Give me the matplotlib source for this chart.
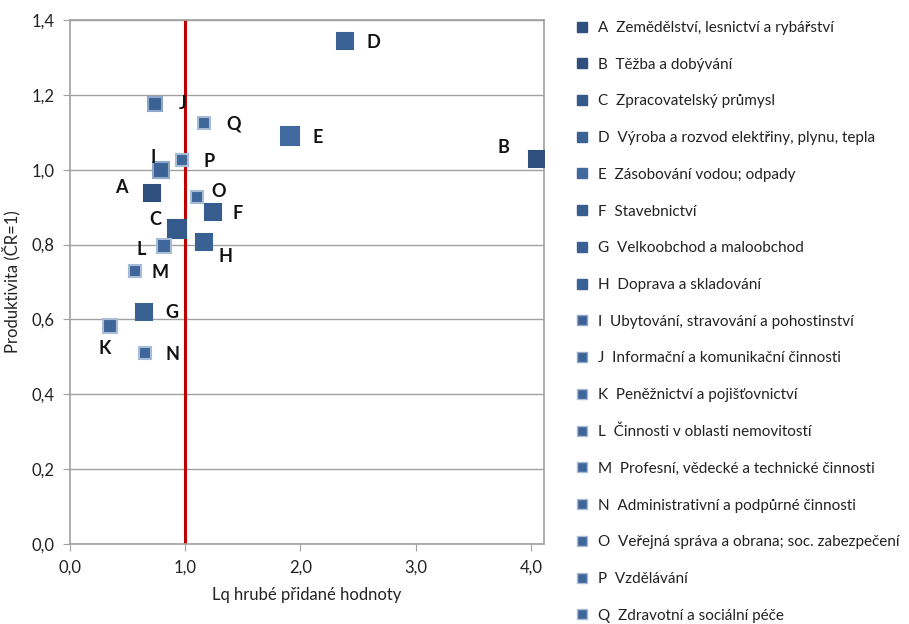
import matplotlib
matplotlib.use("Agg")
import matplotlib.pyplot as plt
from matplotlib.ticker import FuncFormatter, MultipleLocator
from matplotlib.lines import Line2D

plt.rcParams['font.family'] = ['Lato', 'DejaVu Sans']

codes = ["A", "B", "C", "D", "E", "F", "G", "H", "I", "J", "K", "L", "M", "N", "O", "P", "Q"]
names = [
    "Zemědělství, lesnictví a rybářství",
    "Těžba a dobývání",
    "Zpracovatelský průmysl",
    "Výroba a rozvod elektřiny, plynu, tepla",
    "Zásobování vodou; odpady",
    "Stavebnictví",
    "Velkoobchod a maloobchod",
    "Doprava a skladování",
    "Ubytování, stravování a pohostinství",
    "Informační a komunikační činnosti",
    "Peněžnictví a pojišťovnictví",
    "Činnosti v oblasti nemovitostí",
    "Profesní, vědecké a technické činnosti",
    "Administrativní a podpůrné činnosti",
    "Veřejná správa a obrana; soc. zabezpečení",
    "Vzdělávání",
    "Zdravotní a sociální péče",
]
lq = [0.71, 4.05, 0.93, 2.39, 1.91, 1.24, 0.64, 1.16, 0.79, 0.74, 0.345, 0.82, 0.565, 0.65, 1.10, 0.968, 1.165]
prod = [0.937, 1.029, 0.841, 1.344, 1.091, 0.888, 0.62, 0.806, 0.999, 1.176, 0.583, 0.797, 0.729, 0.511, 0.926, 1.026, 1.125]

# styles
colors = ["#2F4F7F", "#2F4F7F", "#345A8C", "#3B6294", "#4169A0", "#385E90", "#3A6193", "#3A6193",
          "#3B6294", "#3B6294", "#3F669A", "#3F669A", "#3F669A", "#3F669A", "#3F669A", "#3F669A", "#3F669A"]
edges = ["#2F4F7F", "#2F4F7F", "#345A8C", "#3B6294", "#4169A0", "#385E90", "#3A6193", "#3A6193",
         "#8FA7C8", "#8FA7C8", "#A9BCD6", "#A9BCD6", "#A9BCD6", "#A9BCD6", "#A9BCD6", "#A9BCD6", "#A9BCD6"]
sizes = [11, 11, 13, 11, 13, 11, 11, 11, 11, 10, 10, 10, 9, 9, 9, 9, 9]
offsets = [(-22, 4), (-24, 8), (-16, 7), (20, -1), (20, -1), (18, -1), (20, 0), (16, -10),
           (-6, 9), (20, 0), (-4, -16), (-17, -3), (18, -1), (20, -1), (16, 4), (20, -1), (21, -1)]

fig = plt.figure(figsize=(9.09, 6.24), dpi=100)
ax = fig.add_axes([0.077, 0.128, 0.521, 0.840])

for c, x, y, col, ec, s, off in zip(codes, lq, prod, colors, edges, sizes, offsets):
    ax.plot(x, y, linestyle='none', marker='s', markersize=s, markerfacecolor=col,
            markeredgecolor=ec, markeredgewidth=1.5, zorder=3)
    ax.annotate(c, (x, y), xytext=off, textcoords='offset points', ha='center', va='center',
                fontsize=13, fontweight='bold', color='#111111', zorder=4)

ax.axvline(1.0, color='#C00000', linewidth=2.2, zorder=2)

ax.set_xlim(0, 4.11)
ax.set_ylim(0, 1.4)
ax.xaxis.set_major_locator(MultipleLocator(1.0))
ax.yaxis.set_major_locator(MultipleLocator(0.2))
fmt = FuncFormatter(lambda v, p: f"{v:.1f}".replace(".", ","))
ax.xaxis.set_major_formatter(fmt)
ax.yaxis.set_major_formatter(fmt)
ax.grid(axis='y', color='#A0A0A0', linewidth=1.0, zorder=0)
ax.set_axisbelow(True)
for sp in ax.spines.values():
    sp.set_color('#A0A0A0')
    sp.set_linewidth(1.2)
ax.tick_params(axis='both', direction='out', color='#A0A0A0', length=5, labelsize=12,
               labelcolor='#222222', pad=6)
ax.set_xlabel("Lq hrubé přidané hodnoty", fontsize=12, color='#222222', labelpad=8)
ax.set_ylabel("Produktivita (ČR=1)", fontsize=12, color='#222222', labelpad=8)

handles = [Line2D([], [], linestyle='none', marker='s', markersize=7, markerfacecolor=col,
                  markeredgecolor=ec, markeredgewidth=1.0) for col, ec in zip(colors, edges)]
labels = [f"{c}  {n}" for c, n in zip(codes, names)]
fig.legend(handles, labels, loc='upper left', bbox_to_anchor=(0.623, 0.976), frameon=False,
           fontsize=11, labelspacing=1.485, handletextpad=0.5, handlelength=1.2,
           borderaxespad=0, labelcolor='#222222')

fig.savefig("out.png", dpi=100)
